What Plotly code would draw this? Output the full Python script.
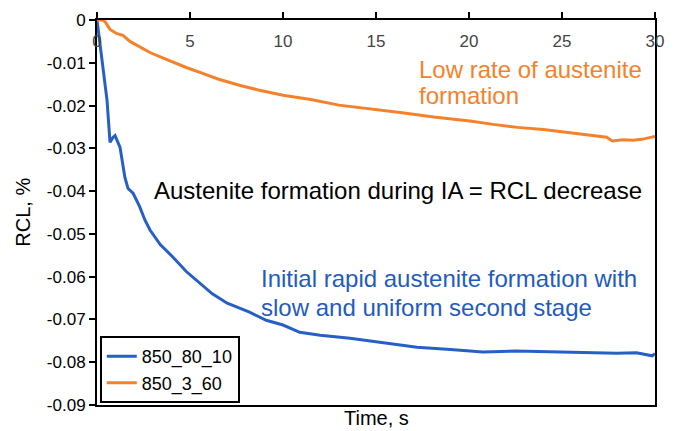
import plotly.graph_objects as go

# ---- data ----
time_blue = [0, 0.15, 0.32, 0.54, 0.7, 0.85, 0.97, 1.1, 1.24, 1.5, 1.67, 1.94, 2.3, 2.58,
             2.85, 3.4, 4.1, 4.8, 5.5, 6.2, 7.0, 8.2, 9.1, 10.0, 10.9, 12.0, 13.6, 15.0,
             17.2, 19.0, 20.75, 22.5, 24.4, 26.0, 27.95, 29.0, 29.6, 29.85, 30]
rcl_blue = [0, -0.005, -0.011, -0.0188, -0.0286, -0.0275, -0.027, -0.0282, -0.0298, -0.0368,
            -0.0394, -0.0405, -0.0437, -0.0468, -0.0491, -0.0525, -0.0555, -0.0588, -0.0615,
            -0.064, -0.0662, -0.0683, -0.0702, -0.0713, -0.073, -0.0737, -0.0744, -0.0752,
            -0.0765, -0.077, -0.0776, -0.0774, -0.0776, -0.0777, -0.0779, -0.0778, -0.0783,
            -0.0785, -0.0780]

time_orange = [0, 0.3, 0.45, 0.7, 1.07, 1.4, 1.77, 2.3, 2.85, 3.5, 4.1, 4.8, 5.5, 6.5, 7.7,
               8.8, 10.0, 11.5, 13.0, 15.0, 16.3, 18.1, 20.05, 21.3, 22.6, 24.0, 25.05, 26.3,
               27.4, 27.7, 28.3, 28.8, 29.3, 29.7, 30]
rcl_orange = [0, 0, -0.0005, -0.0022, -0.0032, -0.0036, -0.0050, -0.0063, -0.0076, -0.0088,
              -0.0099, -0.0111, -0.0122, -0.0138, -0.0153, -0.0165, -0.0176, -0.0186, -0.0199,
              -0.0209, -0.0216, -0.0227, -0.0236, -0.0244, -0.0251, -0.0256, -0.0262, -0.0268,
              -0.0274, -0.0283, -0.0280, -0.0281, -0.0279, -0.0275, -0.0272]

series_names = ["850_80_10", "850_3_60"]

x_tick_vals = [0, 5, 10, 15, 20, 25, 30]
x_tick_text = ["0", "5", "10", "15", "20", "25", "30"]
y_tick_vals = [0, -0.01, -0.02, -0.03, -0.04, -0.05, -0.06, -0.07, -0.08, -0.09]
y_tick_text = ["0", "-0.01", "-0.02", "-0.03", "-0.04", "-0.05", "-0.06", "-0.07", "-0.08", "-0.09"]

BLUE = "#2760C4"
ORANGE = "#F5822A"
BLUE_TXT = "#1F5CC0"
FONT = "Liberation Sans, Arial, sans-serif"

fig = go.Figure()
fig.add_trace(go.Scatter(x=time_blue, y=rcl_blue, mode="lines", name=series_names[0],
                         line=dict(color=BLUE, width=3)))
fig.add_trace(go.Scatter(x=time_orange, y=rcl_orange, mode="lines", name=series_names[1],
                         line=dict(color=ORANGE, width=3)))

fig.update_layout(
    width=676, height=431,
    margin=dict(l=97, r=21, t=19.5, b=26, pad=0),
    paper_bgcolor="white", plot_bgcolor="white",
    font=dict(family=FONT, size=17, color="black"),
    showlegend=True,
    legend=dict(x=0.005, y=0.005, xanchor="left", yanchor="bottom",
                bordercolor="black", borderwidth=2, bgcolor="white",
                font=dict(size=18), tracegroupgap=0, itemwidth=30),
    xaxis=dict(range=[0, 30], side="top", tickvals=x_tick_vals, ticktext=x_tick_text,
               ticks="outside", ticklen=6, tickwidth=2, tickcolor="black",
               ticklabelposition="inside", ticklabeloverflow="allow",
               ticklabelstandoff=16,
               showline=True, linecolor="black", linewidth=2, mirror=True,
               showgrid=False, zeroline=False, tickfont=dict(size=17)),
    yaxis=dict(range=[-0.09, 0], tickvals=y_tick_vals, ticktext=y_tick_text,
               ticks="outside", ticklen=6, tickwidth=2, tickcolor="black",
               ticklabeloverflow="allow",
               showline=True, linecolor="black", linewidth=2, mirror=True,
               showgrid=False, zeroline=False, tickfont=dict(size=17)),
)

annos = [
    dict(text="Time, s", xref="paper", yref="paper", x=0.5, y=-0.034,
         xanchor="center", yanchor="middle", font=dict(size=20, color="black")),
    dict(text="RCL, %", xref="paper", yref="paper", x=-0.134, y=0.5, textangle=-90,
         xanchor="center", yanchor="middle", font=dict(size=20, color="black")),
    dict(text="Low rate of austenite", x=17.26, y=-0.01156, xanchor="left", yanchor="middle",
         font=dict(size=24, color=ORANGE)),
    dict(text="formation", x=17.26, y=-0.01763, xanchor="left", yanchor="middle",
         font=dict(size=24, color=ORANGE)),
    dict(text="Austenite formation during IA = RCL decrease", x=3.01, y=-0.03981,
         xanchor="left", yanchor="middle", font=dict(size=24, color="black")),
    dict(text="Initial rapid austenite formation with", x=8.76, y=-0.06035,
         xanchor="left", yanchor="middle", font=dict(size=24, color=BLUE_TXT)),
    dict(text="slow and uniform second stage", x=8.76, y=-0.06713,
         xanchor="left", yanchor="middle", font=dict(size=24, color=BLUE_TXT)),
]
for a in annos:
    a.setdefault("xref", "x")
    a.setdefault("yref", "y")
    fig.add_annotation(showarrow=False, borderpad=0, **a)

fig.write_html("out.html")
